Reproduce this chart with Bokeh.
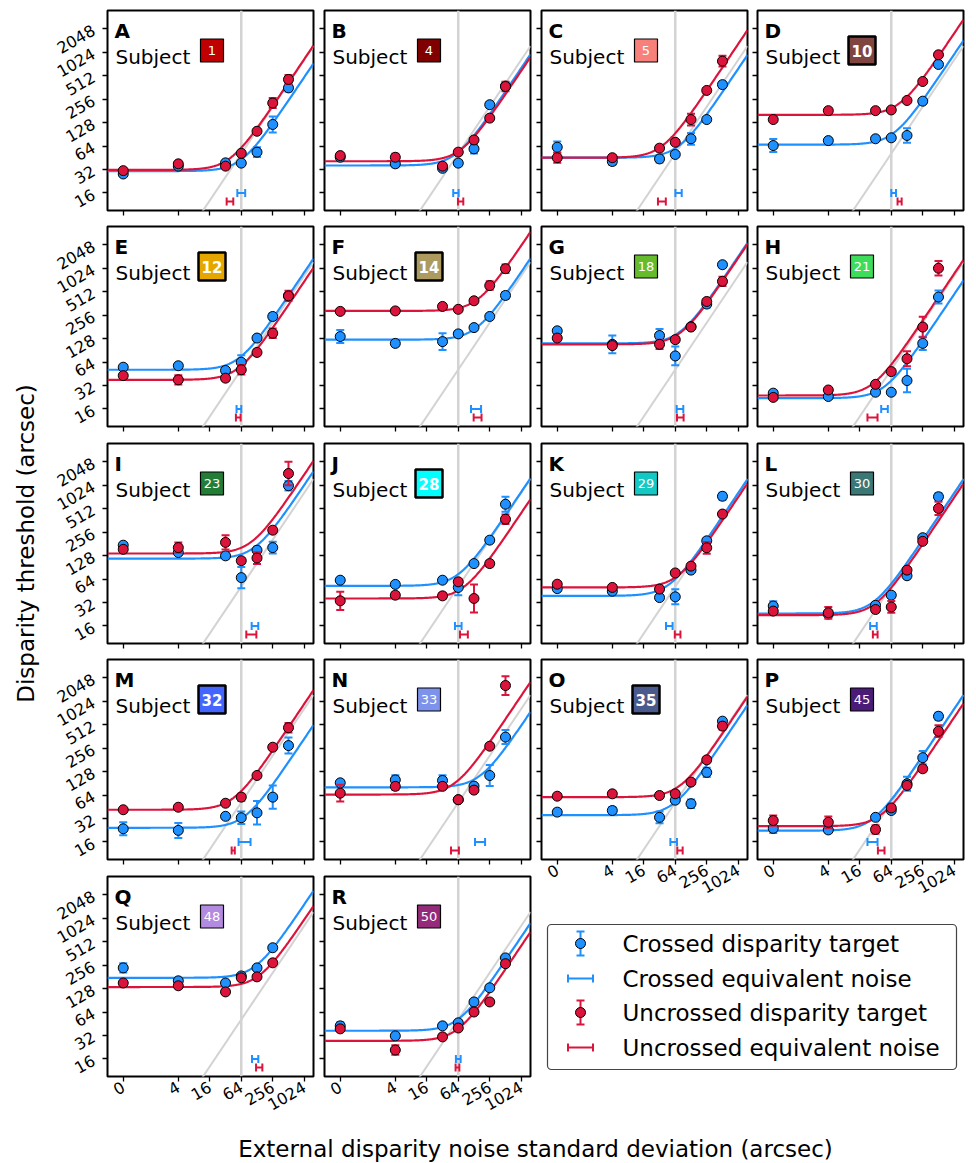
import math
import numpy as np
from bokeh.plotting import figure
from bokeh.models import (Range1d, FixedTicker, NumeralTickFormatter, Label,
                          BoxAnnotation, Span, ColumnDataSource)
from bokeh.layouts import row, column
from bokeh.embed import file_html
from bokeh.resources import INLINE
from bokeh.core.properties import value

# ---------------- data ----------------
LETTERS = list("ABCDEFGHIJKLMNOPQR")
SUBJECTS = [1, 4, 5, 10, 12, 14, 18, 21, 23, 28, 29, 30, 32, 33, 35, 45, 48, 50]
SUBJECT_COLORS = ["#c00000", "#800000", "#f8807a", "#7f4540", "#e5a600", "#ad9a5e",
                  "#66bb2c", "#3ddc5a", "#237d37", "#00ffff", "#14c8c3", "#3b7775",
                  "#4466ff", "#7d92ea", "#4b5a8c", "#4a1c78", "#b28ae0", "#962a7a"]
HIGHLIGHTED = [10, 12, 14, 28, 32, 35]

X_NOISE = [0, 4, 32, 64, 128, 256, 512]          # external noise SD (arcsec)
X_TICKS = [0, 4, 16, 64, 256, 1024]
Y_TICKS = [16, 32, 64, 128, 256, 512, 1024, 2048]

CROSSED_THR = [
    [28.0, 35.3, 38.9, 38.6, 53.4, 121, 357],
    [45.9, 37.8, 33.1, 38.6, 58.9, 217, 377],
    [61.8, 40.5, 43.7, 49.9, 79.3, 140, 393],
    [64.9, 75.1, 79.3, 81.6, 87.4, 241, 714],
    [54.9, 57.3, 49.9, 63.6, 130, 246, 452],
    [136, 111, 117, 147, 177, 246, 458],
    [161, 108, 140, 76.6, 182, 355, 1136],
    [25.5, 23.1, 26.2, 26.2, 37.0, 111, 437],
    [174, 140, 127, 66.7, 150, 162, 1010],
    [61.8, 54.6, 61.8, 49.9, 101, 202, 584],
    [48.2, 44.6, 37.0, 37.8, 83.3, 198, 739],
    [28.8, 22.6, 29.4, 39.7, 70.5, 217, 729],
    [23.6, 22.5, 34.1, 32.7, 37.8, 60.1, 276],
    [91.8, 100, 98.4, 55.7, 83.3, 114, 355],
    [38.6, 40.5, 33.1, 54.9, 49.5, 125, 568],
    [23.9, 22.8, 33.1, 40.5, 89.3, 193, 657],
    [236, 161, 151, 186, 236, 428, None],
    [42.5, 31.6, 42.5, 46.5, 86.2, 131, 317],
]
UNCROSSED_THR = [
    [30.9, 37.8, 35.3, 51.6, 99.0, 228, 458],
    [48.2, 45.9, 35.3, 53.4, 76.6, 146, 372],
    [45.3, 45.3, 60.1, 71.5, 140, 331, 787],
    [140, 182, 182, 186, 246, 431, 949],
    [42.8, 37.8, 39.7, 50.9, 85.0, 150, 452],
    [286, 290, 331, 304, 391, 613, 1010],
    [130, 104, 108, 124, 180, 383, 695],
    [22.5, 28.0, 33.1, 48.2, 70.5, 180, 1024],
    [154, 162, 189, 110, 119, 271, 1448],
    [33.6, 39.7, 38.9, 58.9, 36.0, 101, 375],
    [54.9, 49.9, 47.5, 76.6, 93.7, 161, 437],
    [24.8, 23.6, 26.0, 28.0, 83.3, 195, 516],
    [41.4, 44.6, 50.2, 60.1, 114, 263, 468],
    [67.6, 82.7, 82.7, 55.7, 74.0, 271, 1629],
    [61.8, 66.3, 63.1, 66.3, 93.7, 181, 491],
    [30.1, 28.6, 23.1, 43.7, 85.0, 139, 422],
    [151, 139, 116, 176, 181, 274, None],
    [38.9, 20.8, 30.7, 39.9, 64.0, 86.2, 267],
]
# error bar half-widths, in octaves (log2 units)
CROSSED_ERR = [
    [0.1, 0.08, 0.08, 0.06, 0.21, 0.34, 0.15],
    [0.1, 0.15, 0.1, 0.12, 0.2, 0.12, 0.15],
    [0.24, 0.15, 0.15, 0.1, 0.25, 0.1, 0.12],
    [0.28, 0.1, 0.1, 0.1, 0.31, 0.1, 0.1],
    [0.1, 0.1, 0.1, 0.3, 0.1, 0.15, 0.12],
    [0.28, 0.12, 0.36, 0.12, 0.1, 0.12, 0.15],
    [0.12, 0.38, 0.28, 0.4, 0.1, 0.15, 0.12],
    [0.1, 0.08, 0.08, 0.08, 0.5, 0.28, 0.28],
    [0.1, 0.1, 0.12, 0.45, 0.15, 0.25, 0.2],
    [0.1, 0.1, 0.1, 0.33, 0.1, 0.1, 0.32],
    [0.1, 0.1, 0.1, 0.32, 0.1, 0.12, 0.15],
    [0.2, 0.1, 0.12, 0.12, 0.12, 0.1, 0.15],
    [0.28, 0.32, 0.1, 0.27, 0.5, 0.5, 0.34],
    [0.1, 0.2, 0.22, 0.1, 0.1, 0.45, 0.3],
    [0.12, 0.15, 0.25, 0.1, 0.18, 0.2, 0.1],
    [0.2, 0.12, 0.1, 0.12, 0.3, 0.28, 0.15],
    [0.2, 0.1, 0.1, 0.1, 0.1, 0.1, None],
    [0.15, 0.1, 0.1, 0.1, 0.1, 0.1, 0.1],
]
UNCROSSED_ERR = [
    [0.08, 0.08, 0.08, 0.08, 0.1, 0.21, 0.19],
    [0.1, 0.15, 0.1, 0.1, 0.12, 0.1, 0.2],
    [0.22, 0.1, 0.1, 0.1, 0.25, 0.1, 0.23],
    [0.08, 0.08, 0.08, 0.08, 0.08, 0.08, 0.1],
    [0.1, 0.2, 0.12, 0.2, 0.12, 0.2, 0.22],
    [0.1, 0.1, 0.1, 0.1, 0.1, 0.18, 0.18],
    [0.1, 0.1, 0.2, 0.1, 0.1, 0.1, 0.2],
    [0.1, 0.08, 0.1, 0.1, 0.32, 0.44, 0.31],
    [0.1, 0.22, 0.3, 0.12, 0.25, 0.12, 0.5],
    [0.39, 0.12, 0.12, 0.12, 0.6, 0.12, 0.2],
    [0.1, 0.1, 0.1, 0.1, 0.1, 0.25, 0.1],
    [0.1, 0.25, 0.12, 0.25, 0.12, 0.1, 0.28],
    [0.08, 0.08, 0.08, 0.15, 0.08, 0.08, 0.2],
    [0.36, 0.15, 0.1, 0.1, 0.1, 0.1, 0.4],
    [0.1, 0.1, 0.1, 0.1, 0.1, 0.1, 0.15],
    [0.22, 0.25, 0.18, 0.12, 0.12, 0.12, 0.25],
    [0.1, 0.1, 0.1, 0.1, 0.1, 0.1, None],
    [0.1, 0.2, 0.1, 0.1, 0.1, 0.1, 0.1],
]
# fitted equivalent-noise model: threshold floor (arcsec) and equivalent noise (arcsec)
CROSSED_FLOOR = [30.5, 36.0, 45.3, 66.7, 50.9, 124, 111, 22.0, 117, 52.3, 38.9, 23.1, 24.3, 80.4, 35.3, 22.3, 176, 36.8]
UNCROSSED_FLOOR = [31.6, 40.8, 45.3, 161, 37.8, 290, 108, 23.8, 136, 36.0, 49.9, 22.0, 41.4, 64.9, 60.1, 25.5, 134, 27.3]
CROSSED_EQN = [64.0, 57.7, 74.0, 71.0, 57.7, 140, 78.8, 47.5, 117, 64.0, 49.2, 29.2, 74.0, 167, 59.7, 28.0, 118, 64.0]
CROSSED_EQN_ERR = [0.25, 0.17, 0.2, 0.15, 0.15, 0.32, 0.21, 0.21, 0.21, 0.21, 0.21, 0.21, 0.38, 0.32, 0.21, 0.32, 0.2, 0.15]
UNCROSSED_EQN = [38.9, 71.0, 35.5, 92.4, 56.1, 150, 79.9, 28.0, 99.7, 82.1, 71.0, 31.6, 44.9, 55.3, 78.8, 41.1, 141, 61.8]
UNCROSSED_EQN_ERR = [0.21, 0.17, 0.25, 0.13, 0.15, 0.25, 0.21, 0.32, 0.32, 0.25, 0.18, 0.15, 0.1, 0.25, 0.17, 0.21, 0.2, 0.12]

LEGEND_LABELS = ["Crossed disparity target", "Crossed equivalent noise",
                 "Uncrossed disparity target", "Uncrossed equivalent noise"]
Y_LABEL = "Disparity threshold (arcsec)"
X_LABEL = "External disparity noise standard deviation (arcsec)"

# ---------------- style ----------------
FONT = "DejaVu Sans"
BLUE = "#1e90ff"
RED = "#dc143c"
GRAY = "#d3d3d3"
ZERO_AT = 2 ** -1.5        # where the zero-noise condition is drawn on the log axis
X_LIM = (-2.5, 10.59)      # log2 limits
Y_LIM = (3.25, 11.78)
REF_SLOPE = 0.8            # grey reference line y = 0.8 x
VLINE_AT = 64
NOISE_BAR_Y = {"crossed": 16, "uncrossed": 12.4}
FW, FH = 206, 200
YLAB_W = 40


def nan(v):
    return float("nan") if v is None else float(v)


def add_series(p, thr, err, color):
    xp = [ZERO_AT if x == 0 else x for x in X_NOISE]
    y = [nan(v) for v in thr]
    e = [nan(v) for v in err]
    lo = [v * 2 ** -d for v, d in zip(y, e)]
    hi = [v * 2 ** d for v, d in zip(y, e)]
    src = ColumnDataSource(dict(x=xp, y=y, lo=lo, hi=hi))
    p.segment(x0="x", y0="lo", x1="x", y1="hi", source=src, line_color=color, line_width=2)
    p.scatter(x="x", y="hi", source=src, marker="dash", size=8, line_color=color, line_width=2)
    p.scatter(x="x", y="lo", source=src, marker="dash", size=8, line_color=color, line_width=2)
    p.scatter(x="x", y="y", source=src, marker="circle", size=10, fill_color=color,
              line_color="black", line_width=1)


def add_noise_bar(p, eqn, e, yv, color):
    lo, hi = eqn * 2 ** -e, eqn * 2 ** e
    p.segment(x0=[lo], y0=[yv], x1=[hi], y1=[yv], line_color=color, line_width=2)
    p.scatter(x=[lo, hi], y=[yv, yv], marker="dash", angle=math.pi / 2, size=8,
              line_color=color, line_width=2)


def style_axis(ax, ticks, show_labels, standoff):
    ax.axis_line_color = None
    if show_labels:
        ax.ticker = FixedTicker(ticks=ticks)
    else:
        # tick marks only (drawn as minor ticks, so no labels are produced)
        ax.ticker = FixedTicker(ticks=[], minor_ticks=ticks)
    for kind in ("major", "minor"):
        setattr(ax, f"{kind}_tick_out", 5)
        setattr(ax, f"{kind}_tick_in", 0)
        setattr(ax, f"{kind}_tick_line_width", 1.3)
        setattr(ax, f"{kind}_tick_line_color", "black")
    ax.formatter = NumeralTickFormatter(format="0")
    ax.major_label_text_font = FONT
    ax.major_label_text_font_size = "16px"
    ax.major_label_text_color = "black"
    ax.major_label_orientation = math.pi / 6
    ax.major_label_standoff = standoff


def make_panel(i, ml, mr, mt, mb, show_x, show_y):
    p = figure(frame_width=FW, frame_height=FH, x_axis_type="log", y_axis_type="log",
               x_range=Range1d(2 ** X_LIM[0], 2 ** X_LIM[1]),
               y_range=Range1d(2 ** Y_LIM[0], 2 ** Y_LIM[1]),
               min_border_left=ml, min_border_right=mr, min_border_top=mt, min_border_bottom=mb,
               toolbar_location=None, output_backend="svg", title=None)
    p.grid.visible = False
    p.outline_line_color = "black"
    p.outline_line_width = 2
    p.background_fill_color = "white"

    style_axis(p.xaxis[0], [ZERO_AT if t == 0 else t for t in X_TICKS], show_x, 4)
    style_axis(p.yaxis[0], Y_TICKS, show_y, 9)

    # reference lines
    p.add_layout(Span(location=VLINE_AT, dimension="height", line_color=GRAY,
                      line_width=2.5, level="underlay"))
    xa, xb = 2 ** X_LIM[0], 2 ** X_LIM[1]
    p.line(x=[xa, xb], y=[REF_SLOPE * xa, REF_SLOPE * xb], line_color=GRAY, line_width=2)

    # fitted curves
    s = np.logspace(X_LIM[0], X_LIM[1], 300, base=2)
    p.line(s, CROSSED_FLOOR[i] * np.sqrt(1 + (s / CROSSED_EQN[i]) ** 2), line_color=BLUE, line_width=2.2)
    p.line(s, UNCROSSED_FLOOR[i] * np.sqrt(1 + (s / UNCROSSED_EQN[i]) ** 2), line_color=RED, line_width=2.2)

    add_noise_bar(p, CROSSED_EQN[i], CROSSED_EQN_ERR[i], NOISE_BAR_Y["crossed"], BLUE)
    add_noise_bar(p, UNCROSSED_EQN[i], UNCROSSED_EQN_ERR[i], NOISE_BAR_Y["uncrossed"], RED)
    add_series(p, CROSSED_THR[i], CROSSED_ERR[i], BLUE)
    add_series(p, UNCROSSED_THR[i], UNCROSSED_ERR[i], RED)

    # panel letter + subject tag
    p.add_layout(Label(x=7, y=FH - 20, x_units="screen", y_units="screen", text=LETTERS[i],
                       text_font=FONT, text_font_size="20px", text_font_style="bold",
                       text_color="black", text_baseline="alphabetic", text_align="left"))
    p.add_layout(Label(x=8, y=FH - 46, x_units="screen", y_units="screen", text="Subject",
                       text_font=FONT, text_font_size="20px", text_color="black",
                       text_baseline="alphabetic", text_align="left"))
    bold = SUBJECTS[i] in HIGHLIGHTED
    w, h = (27, 28) if bold else (23, 23)
    cx, cy = 104.5, FH - 40
    p.add_layout(BoxAnnotation(left=cx - w / 2, right=cx + w / 2, bottom=cy - h / 2, top=cy + h / 2,
                               left_units="screen", right_units="screen",
                               top_units="screen", bottom_units="screen",
                               fill_color=SUBJECT_COLORS[i], fill_alpha=1.0,
                               line_color="black", line_alpha=1.0,
                               line_width=2.5 if bold else 1.2))
    p.add_layout(Label(x=cx, y=cy, x_units="screen", y_units="screen", text=str(SUBJECTS[i]),
                       text_font=FONT, text_font_size="15px" if bold else "13px",
                       text_font_style="bold" if bold else "normal", text_color="white",
                       text_align="center", text_baseline="middle"))
    return p


ML = [107 - YLAB_W, 6, 6, 6]
MR = [5, 5, 4, 8]
ROW_MB = [6, 7, 6, 7]
BOTTOM_PANELS = {14, 15, 16, 17}

panels = {}
for i in range(18):
    c, r = i % 4, i // 4
    show_x = i in BOTTOM_PANELS
    mb = 50 if show_x else ROW_MB[r]
    panels[i] = make_panel(i, ML[c], MR[c], 10, mb, show_x, c == 0)

col0 = column([panels[i] for i in (0, 4, 8, 12, 16)], spacing=0)
col1 = column([panels[i] for i in (1, 5, 9, 13, 17)], spacing=0)
col2 = column([panels[i] for i in (2, 6, 10, 14)], spacing=0)
col3 = column([panels[i] for i in (3, 7, 11, 15)], spacing=0)

TOP_H = 216 + 217 + 216 + 217 + 260

# shared y-axis title
yl = figure(width=YLAB_W, height=TOP_H, x_range=Range1d(0, 1), y_range=Range1d(0, 1),
            x_axis_location=None, y_axis_location=None, toolbar_location=None,
            output_backend="svg", title=None, min_border=0)
yl.grid.visible = False
yl.outline_line_color = None
yl.add_layout(Label(x=25, y=TOP_H - 543, x_units="screen", y_units="screen", text=Y_LABEL,
                    angle=math.pi / 2, text_font=FONT, text_font_size="23px", text_color="black",
                    text_align="center", text_baseline="middle"))

# legend panel
LW, LH = 436, TOP_H - (216 + 217 + 216 + 260)
lg = figure(width=LW, height=LH, x_range=Range1d(0, LW), y_range=Range1d(LH, 0),
            x_axis_location=None, y_axis_location=None, toolbar_location=None,
            output_backend="svg", title=None, min_border=0)
lg.grid.visible = False
lg.outline_line_color = None
lg.add_layout(BoxAnnotation(left=12, right=421, top=15, bottom=160, fill_color="white",
                            fill_alpha=1.0, line_color="#444444", line_alpha=1.0,
                            line_width=1.2, border_radius=4, level="underlay"))
rows_y = [34, 69, 103, 138]
icon_x = 45
for yy, col, kind in zip(rows_y, [BLUE, BLUE, RED, RED], ["target", "noise", "target", "noise"]):
    if kind == "target":
        lg.segment(x0=[icon_x], y0=[yy - 12], x1=[icon_x], y1=[yy + 12], line_color=col, line_width=2)
        lg.scatter(x=[icon_x, icon_x], y=[yy - 12, yy + 12], marker="dash", size=8,
                   line_color=col, line_width=2)
        lg.scatter(x=[icon_x], y=[yy], marker="circle", size=10, fill_color=col,
                   line_color="black", line_width=1)
    else:
        lg.segment(x0=[icon_x - 12.5], y0=[yy], x1=[icon_x + 12.5], y1=[yy], line_color=col, line_width=2)
        lg.scatter(x=[icon_x - 12.5, icon_x + 12.5], y=[yy, yy], marker="dash", angle=math.pi / 2,
                   size=8, line_color=col, line_width=2)
lg.text(x=[87] * 4, y=rows_y, text=LEGEND_LABELS, text_font=value(FONT),
        text_font_size=value("23px"), text_baseline="middle", text_align="left", text_color="black")

right_block = column(row(col2, col3, spacing=0), lg, spacing=0)
top = row(yl, col0, col1, right_block, spacing=0)

xl = figure(width=971, height=36, x_range=Range1d(0, 1), y_range=Range1d(0, 1),
            x_axis_location=None, y_axis_location=None, toolbar_location=None,
            output_backend="svg", title=None, min_border=0)
xl.grid.visible = False
xl.outline_line_color = None
xl.add_layout(Label(x=535, y=14, x_units="screen", y_units="screen", text=X_LABEL,
                    text_font=FONT, text_font_size="23px", text_color="black",
                    text_align="center", text_baseline="middle"))

p = column(top, xl, spacing=0)
open("out.html", "w").write(file_html(p, INLINE))
